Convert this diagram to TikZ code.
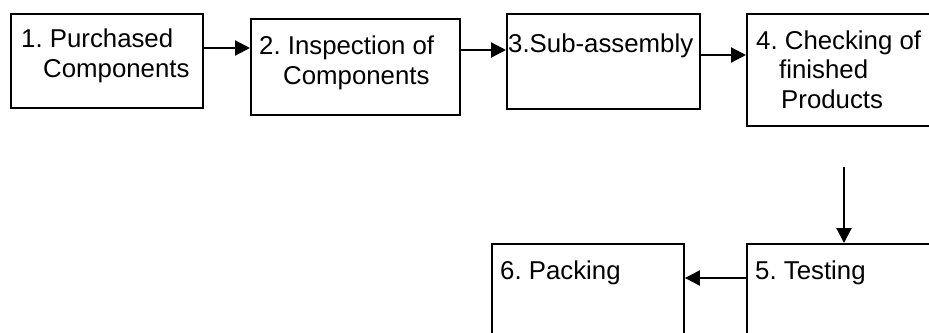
\documentclass[tikz,border=0pt]{standalone}
\usepackage{fontspec}
\setmainfont{Liberation Sans}
\frenchspacing
\usetikzlibrary{arrows.meta}

\tikzset{
  box/.style={draw, line width=1.9pt, rectangle, anchor=north west, inner sep=0pt},
  txt/.style={anchor=base west, inner sep=0pt, align=left, font=\fontsize{25.8}{29.5}\selectfont},
  flow/.style={line width=2.2pt, -{Triangle[length=15pt,width=15pt]}}
}

\begin{document}
\begin{tikzpicture}[x=1pt, y=-1pt]

    % page frame
    \useasboundingbox (0,0) rectangle (929,332);
    \clip (0,0) rectangle (929,332);

    % draw the boxes
    \node[box, minimum width=192pt, minimum height=94pt] (b1) at (10,13) {};
    \node[box, minimum width=209pt, minimum height=96pt] (b2) at (250,18) {};
    \node[box, minimum width=193pt, minimum height=95pt] (b3) at (506,13) {};
    \node[box, minimum width=214pt, minimum height=112pt] (b4) at (746,13) {};
    \node[box, minimum width=214pt, minimum height=117pt] (b5) at (746,243) {};
    \node[box, minimum width=192pt, minimum height=117pt] (b6) at (491,243) {};

    % add text (base anchor sits on the last line)
    \node[txt] (t1) at ([shift={(11,64)}]b1.north west) {1. Purchased\\\hspace*{22pt}Components};
    \node[txt] (t2) at ([shift={(9,66)}]b2.north west) {2. Inspection of\\\hspace*{24pt}Components};
    \node[txt] (t3) at ([shift={(2,39)}]b3.north west) {3.Sub-assembly};
    \node[txt] (t4) at ([shift={(10,95)}]b4.north west) {4. Checking of\\\hspace*{23pt}finished\\\hspace*{25pt}Products};
    \node[txt] (t5) at ([shift={(9,36)}]b5.north west) {5. Testing};
    \node[txt] (t6) at ([shift={(9,36)}]b6.north west) {6. Packing};

    % arrows
    \draw[flow] (b1.east |- 0,48) -- (b2.west |- 0,48);
    \draw[flow] (b2.east |- 0,50) -- (b3.west |- 0,50);
    \draw[flow] (b3.east |- 0,55) -- (b4.west |- 0,55);
    \coordinate (d4) at (844,167);
    \draw[flow] (d4) -- (d4 |- b5.north);
    \draw[flow] (b5.west |- 0,278) -- (b6.east |- 0,278);

\end{tikzpicture}
\end{document}
